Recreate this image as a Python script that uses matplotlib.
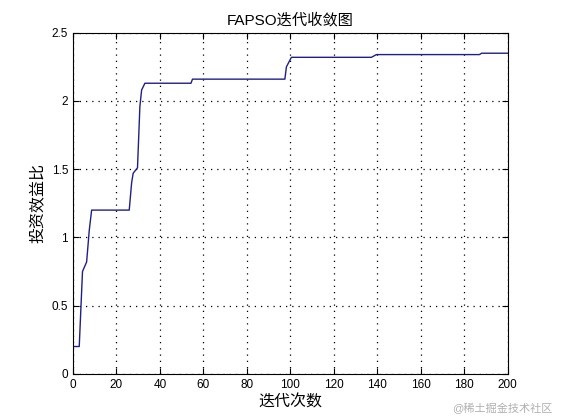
import matplotlib
matplotlib.use("Agg")
import matplotlib.pyplot as plt

plt.rcParams['font.family'] = ['Liberation Sans', 'Noto Sans CJK SC', 'DejaVu Sans']

# convergence curve (iteration, value)
iters = [0, 2.9, 4.4, 6.3, 7.5, 8.6, 25.9, 27.0, 27.7, 29.7, 30.8, 31.6, 33.1, 34.6,
         54.3, 55.0, 97.5, 98.2, 100.5, 137.3, 139.6, 187.0, 188.0, 200]
ratio = [0.20, 0.20, 0.75, 0.82, 1.05, 1.20, 1.20, 1.40, 1.47, 1.51, 1.96, 2.08, 2.13, 2.13,
         2.13, 2.16, 2.16, 2.25, 2.32, 2.32, 2.34, 2.34, 2.35, 2.35]

xticks = [0, 20, 40, 60, 80, 100, 120, 140, 160, 180, 200]
yticks = [0, 0.5, 1, 1.5, 2, 2.5]

fig = plt.figure(figsize=(5.61, 4.2), dpi=100)
ax = fig.add_axes([0.13, 0.11, 0.775, 0.812])

ax.plot(iters, ratio, color='#1f1f8a', linewidth=1.0)

ax.set_xlim(0, 200)
ax.set_ylim(0, 2.5)
ax.set_xticks(xticks)
ax.set_yticks(yticks)
ax.set_yticklabels(['0', '0.5', '1', '1.5', '2', '2.5'])
ax.tick_params(direction='in', length=4, width=0.8, labelsize=8.5, top=True, right=True)
ax.grid(True, linestyle=(0, (1, 4)), color='black', linewidth=0.9)
for s in ax.spines.values():
    s.set_linewidth(0.8)

ax.set_title('FAPSO迭代收敛图', fontsize=11)
ax.set_xlabel('迭代次数', fontsize=11.5, labelpad=3)
ax.set_ylabel('投资效益比', fontsize=11.5)

fig.text(0.985, 0.015, '@稀土掘金技术社区', ha='right', va='bottom',
         fontsize=8, color='#b0b0b0')

fig.savefig('out.png', dpi=100)
